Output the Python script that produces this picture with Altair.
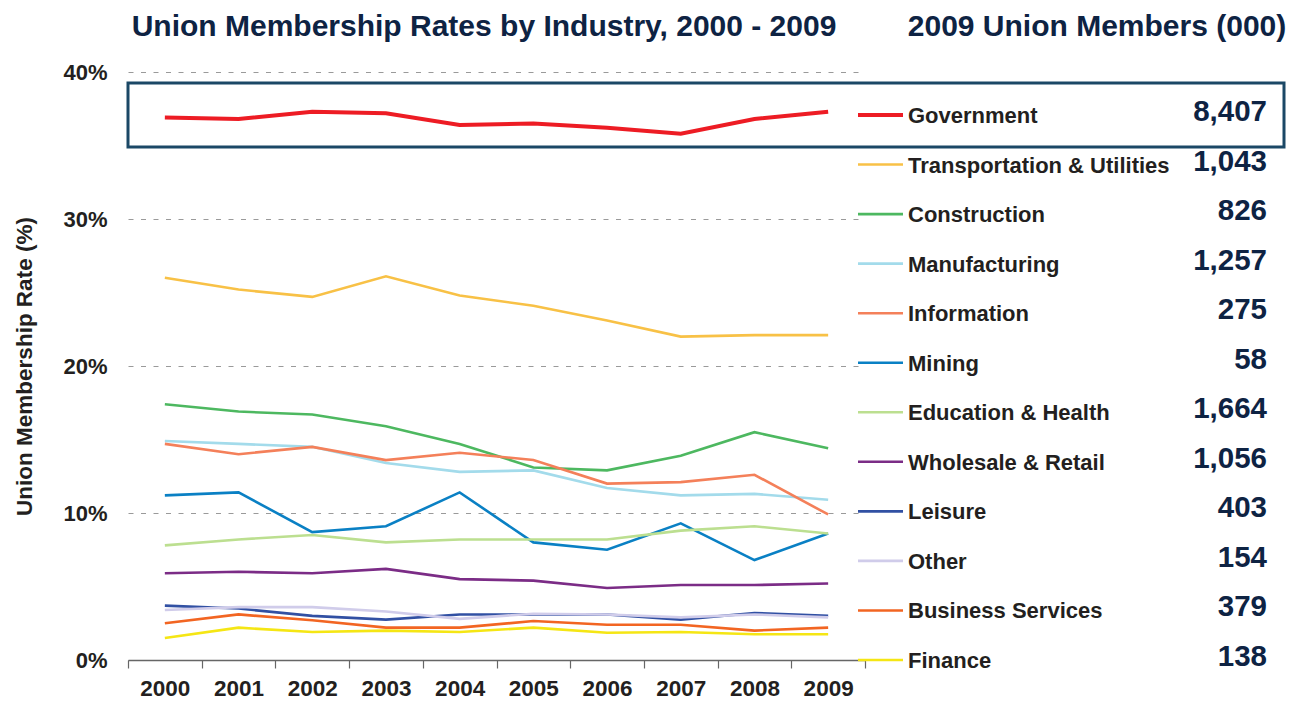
import altair as alt
import pandas as pd

years = ["2000", "2001", "2002", "2003", "2004", "2005", "2006", "2007", "2008", "2009"]

industries = ["Government", "Transportation & Utilities", "Construction", "Manufacturing",
              "Information", "Mining", "Education & Health", "Wholesale & Retail",
              "Leisure", "Other", "Business Services", "Finance"]

colors = ["#ED1C24", "#F8C146", "#4DB860", "#A3DBEB", "#F4805A", "#0A80C4",
          "#BCDF90", "#7B2C86", "#3150A3", "#D0CCEA", "#F26522", "#F5E614"]

members_2009 = [8407, 1043, 826, 1257, 275, 58, 1664, 1056, 403, 154, 379, 138]

government = [36.9, 36.8, 37.3, 37.2, 36.4, 36.5, 36.2, 35.8, 36.8, 37.3]
transportation = [26.0, 25.2, 24.7, 26.1, 24.8, 24.1, 23.1, 22.0, 22.1, 22.1]
construction = [17.4, 16.9, 16.7, 15.9, 14.7, 13.1, 12.9, 13.9, 15.5, 14.4]
manufacturing = [14.9, 14.7, 14.5, 13.4, 12.8, 12.9, 11.7, 11.2, 11.3, 10.9]
information = [14.7, 14.0, 14.5, 13.6, 14.1, 13.6, 12.0, 12.1, 12.6, 9.9]
mining = [11.2, 11.4, 8.7, 9.1, 11.4, 8.0, 7.5, 9.3, 6.8, 8.6]
education = [7.8, 8.2, 8.5, 8.0, 8.2, 8.2, 8.2, 8.8, 9.1, 8.6]
wholesale = [5.9, 6.0, 5.9, 6.2, 5.5, 5.4, 4.9, 5.1, 5.1, 5.2]
leisure = [3.7, 3.5, 3.0, 2.75, 3.1, 3.1, 3.1, 2.75, 3.2, 3.0]
other = [3.4, 3.6, 3.6, 3.3, 2.8, 3.15, 3.1, 2.9, 3.1, 2.9]
business = [2.5, 3.1, 2.7, 2.2, 2.2, 2.65, 2.4, 2.4, 2.0, 2.2]
finance = [1.5, 2.2, 1.9, 2.0, 1.9, 2.2, 1.85, 1.9, 1.75, 1.75]

series = [government, transportation, construction, manufacturing, information, mining,
          education, wholesale, leisure, other, business, finance]

rows = []
for name, vals in zip(industries, series):
    for y, v in zip(years, vals):
        rows.append({"Industry": name, "Year": y, "Rate": v})
df = pd.DataFrame(rows)

leg = pd.DataFrame({"Industry": industries, "Members": members_2009})

FONT = "Liberation Sans, Arial, Helvetica, sans-serif"
NAVY = "#0E2343"
DARK = "#231F20"

color_scale = alt.Scale(domain=industries, range=colors)

lines = alt.Chart(df).mark_line(strokeCap="butt", strokeJoin="miter").encode(
    x=alt.X("Year:O", sort=years,
            scale=alt.Scale(type="band", paddingInner=0, paddingOuter=0),
            axis=alt.Axis(title=None, labelAngle=0, tickBand="extent", tickSize=8,
                          tickColor="#666666", tickWidth=1.2, domainColor="#666666",
                          domainWidth=1.5, labelFont=FONT, labelFontSize=22.5,
                          labelFontWeight="bold", labelColor=DARK, labelPadding=27,
                          labelBaseline="alphabetic", grid=False)),
    y=alt.Y("Rate:Q", scale=alt.Scale(domain=[0, 40]),
            axis=alt.Axis(values=[0, 10, 20, 30, 40], labelExpr="datum.value + '%'",
                          title="Union Membership Rate (%)", titleFont=FONT,
                          titleFontSize=22.5, titleFontWeight="bold", titleColor=DARK,
                          titlePadding=26, labelFont=FONT, labelFontSize=22,
                          labelFontWeight="bold", labelColor=DARK, labelPadding=21,
                          ticks=False, domain=False, grid=True, gridColor="#9A9A9A",
                          gridDash=[5, 7.5], gridWidth=1)),
    color=alt.Color("Industry:N", scale=color_scale, legend=None),
    strokeWidth=alt.condition(alt.datum.Industry == "Government", alt.value(4), alt.value(2.6)),
    order=alt.Order("Year:O"),
)

leg_y = alt.Y("Industry:N", sort=industries,
              scale=alt.Scale(type="point", range=[43, 588], padding=0), axis=None)

leg_lines = alt.Chart(leg).mark_rule().encode(
    x=alt.value(730), x2=alt.value(775), y=leg_y,
    color=alt.Color("Industry:N", scale=color_scale, legend=None),
    strokeWidth=alt.condition(alt.datum.Industry == "Government", alt.value(4), alt.value(2.6)),
)

leg_labels = alt.Chart(leg).mark_text(align="left", baseline="alphabetic", dy=8,
                                      font=FONT, fontSize=22, fontWeight="bold",
                                      color=DARK).encode(
    x=alt.value(780), y=leg_y, text="Industry:N")

leg_nums = alt.Chart(leg).mark_text(align="right", baseline="alphabetic", dy=6,
                                    font=FONT, fontSize=29.5, fontWeight="bold",
                                    color=NAVY).encode(
    x=alt.value(1139), y=leg_y, text=alt.Text("Members:Q", format=","))

box_df = pd.DataFrame({"k": [0]})
box = alt.Chart(box_df).mark_rect(fill=None, stroke="#1B4866", strokeWidth=3).encode(
    x=alt.value(0), x2=alt.value(1156), y=alt.value(11), y2=alt.value(75))

title_df = pd.DataFrame({"t": ["Union Membership Rates by Industry, 2000 - 2009"]})
title_left = alt.Chart(title_df).mark_text(align="center", baseline="alphabetic",
                                           font=FONT, fontSize=30, fontWeight="bold",
                                           color=NAVY).encode(
    x=alt.value(356), y=alt.value(-36), text="t:N")

title2_df = pd.DataFrame({"t": ["2009 Union Members (000)"]})
title_right = alt.Chart(title2_df).mark_text(align="center", baseline="alphabetic",
                                             font=FONT, fontSize=30, fontWeight="bold",
                                             color=NAVY).encode(
    x=alt.value(969), y=alt.value(-36), text="t:N")

chart = alt.layer(lines, leg_lines, leg_labels, leg_nums, box, title_left, title_right).resolve_scale(
    y="independent"
).properties(
    width=737, height=588,
    padding={"left": 120, "top": 64, "right": 422, "bottom": 40},
    autosize=alt.AutoSizeParams(type="none"),
    background="white",
).configure_view(stroke=None)

chart.save("out.html", embed_options={"renderer": "svg", "actions": False})
